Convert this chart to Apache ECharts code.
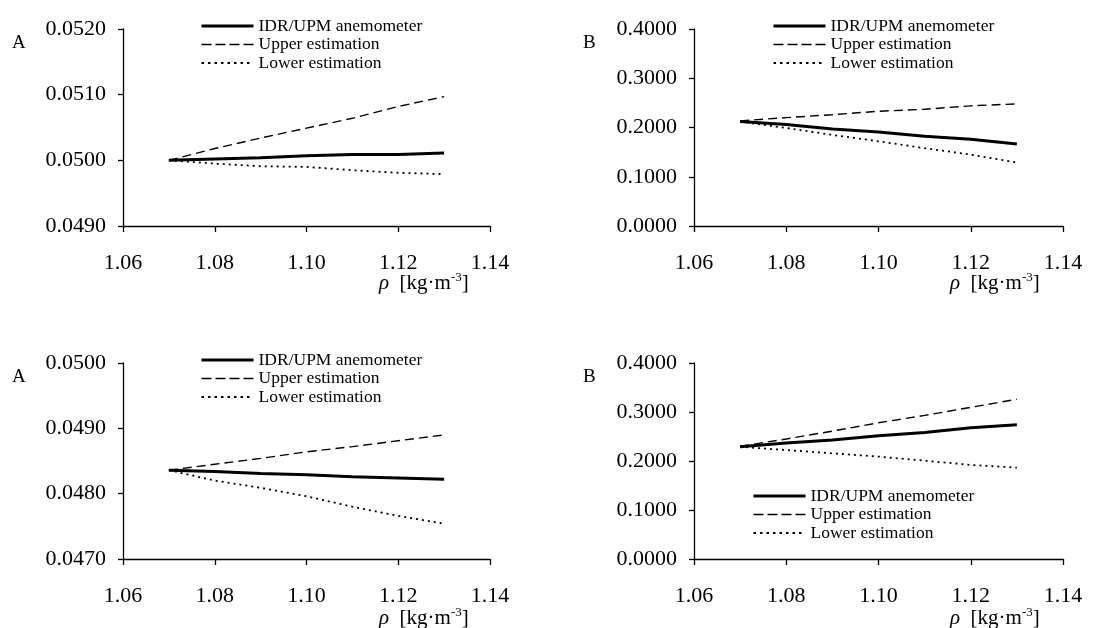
<!DOCTYPE html>
<html>
<head>
<meta charset="utf-8">
<script src="https://cdn.jsdelivr.net/npm/echarts@6/dist/echarts.min.js"></script>
<style>
  html, body { margin: 0; padding: 0; background: #fff; }
  #chart { width: 1119px; height: 628px; }
</style>
</head>
<body>
<div id="chart"></div>
<script>
  // density values on the x axis
  var rho = [1.07, 1.08, 1.09, 1.10, 1.11, 1.12, 1.13];
  var seriesNames = ['IDR/UPM anemometer', 'Upper estimation', 'Lower estimation'];

  // panel A (top)
  var topA_idr   = [0.05000, 0.05002, 0.05004, 0.05007, 0.05009, 0.05009, 0.05011];
  var topA_upper = [0.05000, 0.05018, 0.05034, 0.05049, 0.05064, 0.05082, 0.05097];
  var topA_lower = [0.05000, 0.04995, 0.04991, 0.04990, 0.04985, 0.04981, 0.04979];

  // panel B (top)
  var topB_idr   = [0.2122, 0.2060, 0.1970, 0.1910, 0.1820, 0.1760, 0.1665];
  var topB_upper = [0.2135, 0.2200, 0.2260, 0.2330, 0.2370, 0.2440, 0.2480];
  var topB_lower = [0.2120, 0.1990, 0.1850, 0.1720, 0.1580, 0.1450, 0.1290];

  // panel A (bottom)
  var botA_idr   = [0.04836, 0.04834, 0.04831, 0.04829, 0.04826, 0.04824, 0.04822];
  var botA_upper = [0.04836, 0.04845, 0.04854, 0.04864, 0.04872, 0.04881, 0.04890];
  var botA_lower = [0.04836, 0.04820, 0.04809, 0.04796, 0.04780, 0.04766, 0.04754];

  // panel B (bottom)
  var botB_idr   = [0.2290, 0.2366, 0.2430, 0.2515, 0.2580, 0.2680, 0.2740];
  var botB_upper = [0.2300, 0.2450, 0.2610, 0.2780, 0.2930, 0.3095, 0.3260];
  var botB_lower = [0.2290, 0.2224, 0.2156, 0.2090, 0.2007, 0.1920, 0.1865];

  var xTicks = [1.06, 1.14, 0.02];
  var yRanges = [
    [0.0490, 0.0520, 0.0010],
    [0.0000, 0.4000, 0.1000],
    [0.0470, 0.0500, 0.0010],
    [0.0000, 0.4000, 0.1000]
  ];
  var panelLetters = ['A', 'B', 'A', 'B'];

  var FONT = 'Liberation Serif';
  var grids = [
    { left: 123, top: 29, width: 367, height: 197 },
    { left: 694, top: 29, width: 369, height: 197 },
    { left: 123, top: 363, width: 367, height: 196 },
    { left: 694, top: 363, width: 369, height: 196 }
  ];
  var legendPos = [
    { left: 200, top: 17 },
    { left: 772, top: 17 },
    { left: 200, top: 351 },
    { left: 752, top: 487 }
  ];
  var letterPos = [
    { left: 12, top: 34 },
    { left: 583, top: 34 },
    { left: 12, top: 368 },
    { left: 583, top: 368 }
  ];
  var rhoTitleTop = [271, 271, 606, 606];
  var rhoTitleLeft = [379, 950, 379, 950];

  var panelData = [
    [topA_idr, topA_upper, topA_lower],
    [topB_idr, topB_upper, topB_lower],
    [botA_idr, botA_upper, botA_lower],
    [botB_idr, botB_upper, botB_lower]
  ];

  var lineStyles = [
    { color: '#000', width: 3, type: 'solid' },
    { color: '#000', width: 1.4, type: [9, 5] },
    { color: '#000', width: 1.8, type: [2, 4] }
  ];
  var legendDash = ['solid', [10, 4], [2.5, 4]];

  function pairs(ys) {
    return rho.map(function (x, i) { return [x, ys[i]]; });
  }

  var xAxes = [], yAxes = [], series = [], legends = [], titles = [];
  grids.forEach(function (g, p) {
    xAxes.push({
      type: 'value', gridIndex: p,
      min: xTicks[0], max: xTicks[1], interval: xTicks[2],
      axisLine: { lineStyle: { color: '#000', width: 1.3 } },
      axisTick: { show: true, length: 6, lineStyle: { color: '#000', width: 1.3 } },
      axisLabel: { margin: 26, color: '#000', fontFamily: FONT, fontSize: 22,
        formatter: function (v) { return v.toFixed(2); } },
      splitLine: { show: false }
    });
    yAxes.push({
      type: 'value', gridIndex: p,
      min: yRanges[p][0], max: yRanges[p][1], interval: yRanges[p][2],
      axisLine: { show: true, lineStyle: { color: '#000', width: 1.3 } },
      axisTick: { show: true, length: 5, lineStyle: { color: '#000', width: 1.3 } },
      axisLabel: { margin: 17, color: '#000', fontFamily: FONT, fontSize: 22,
        formatter: function (v) { return v.toFixed(4); } },
      splitLine: { show: false }
    });
    seriesNames.forEach(function (name, s) {
      series.push({
        name: name, type: 'line', xAxisIndex: p, yAxisIndex: p,
        data: pairs(panelData[p][s]),
        symbol: 'none', smooth: false,
        lineStyle: lineStyles[s],
        itemStyle: { color: '#000' },
        z: 3 - s
      });
    });
    legends.push({
      orient: 'vertical', left: legendPos[p].left, top: legendPos[p].top,
      padding: 0,
      data: seriesNames.map(function (n, s) {
        return { name: n, lineStyle: { width: lineStyles[s].width, type: legendDash[s], color: '#000' } };
      }),
      itemWidth: 52, itemHeight: 10, itemGap: 0.5,
      selectedMode: false,
      itemStyle: { color: 'transparent', borderWidth: 0 },
      textStyle: { color: '#000', fontFamily: FONT, fontSize: 17.5, lineHeight: 18 }
    });
    titles.push({
      text: panelLetters[p], left: letterPos[p].left, top: letterPos[p].top,
      padding: 0,
      textStyle: { color: '#000', fontFamily: FONT, fontSize: 19, fontWeight: 'normal' }
    });
    titles.push({
      text: '{i|ρ}  [kg·m{s|-3}]',
      left: rhoTitleLeft[p], top: rhoTitleTop[p],
      padding: 0,
      textStyle: {
        color: '#000', fontFamily: FONT, fontSize: 21, fontWeight: 'normal', lineHeight: 24,
        rich: {
          i: { fontStyle: 'italic', fontFamily: FONT, fontSize: 21, color: '#000' },
          s: { fontFamily: FONT, fontSize: 13, color: '#000', verticalAlign: 'top', lineHeight: 24 }
        }
      }
    });
  });

  var chart = echarts.init(document.getElementById('chart'), null, { renderer: 'canvas' });
  chart.setOption({
    animation: false,
    backgroundColor: '#fff',
    grid: grids,
    xAxis: xAxes,
    yAxis: yAxes,
    legend: legends,
    title: titles,
    series: series
  });
</script>
</body>
</html>
